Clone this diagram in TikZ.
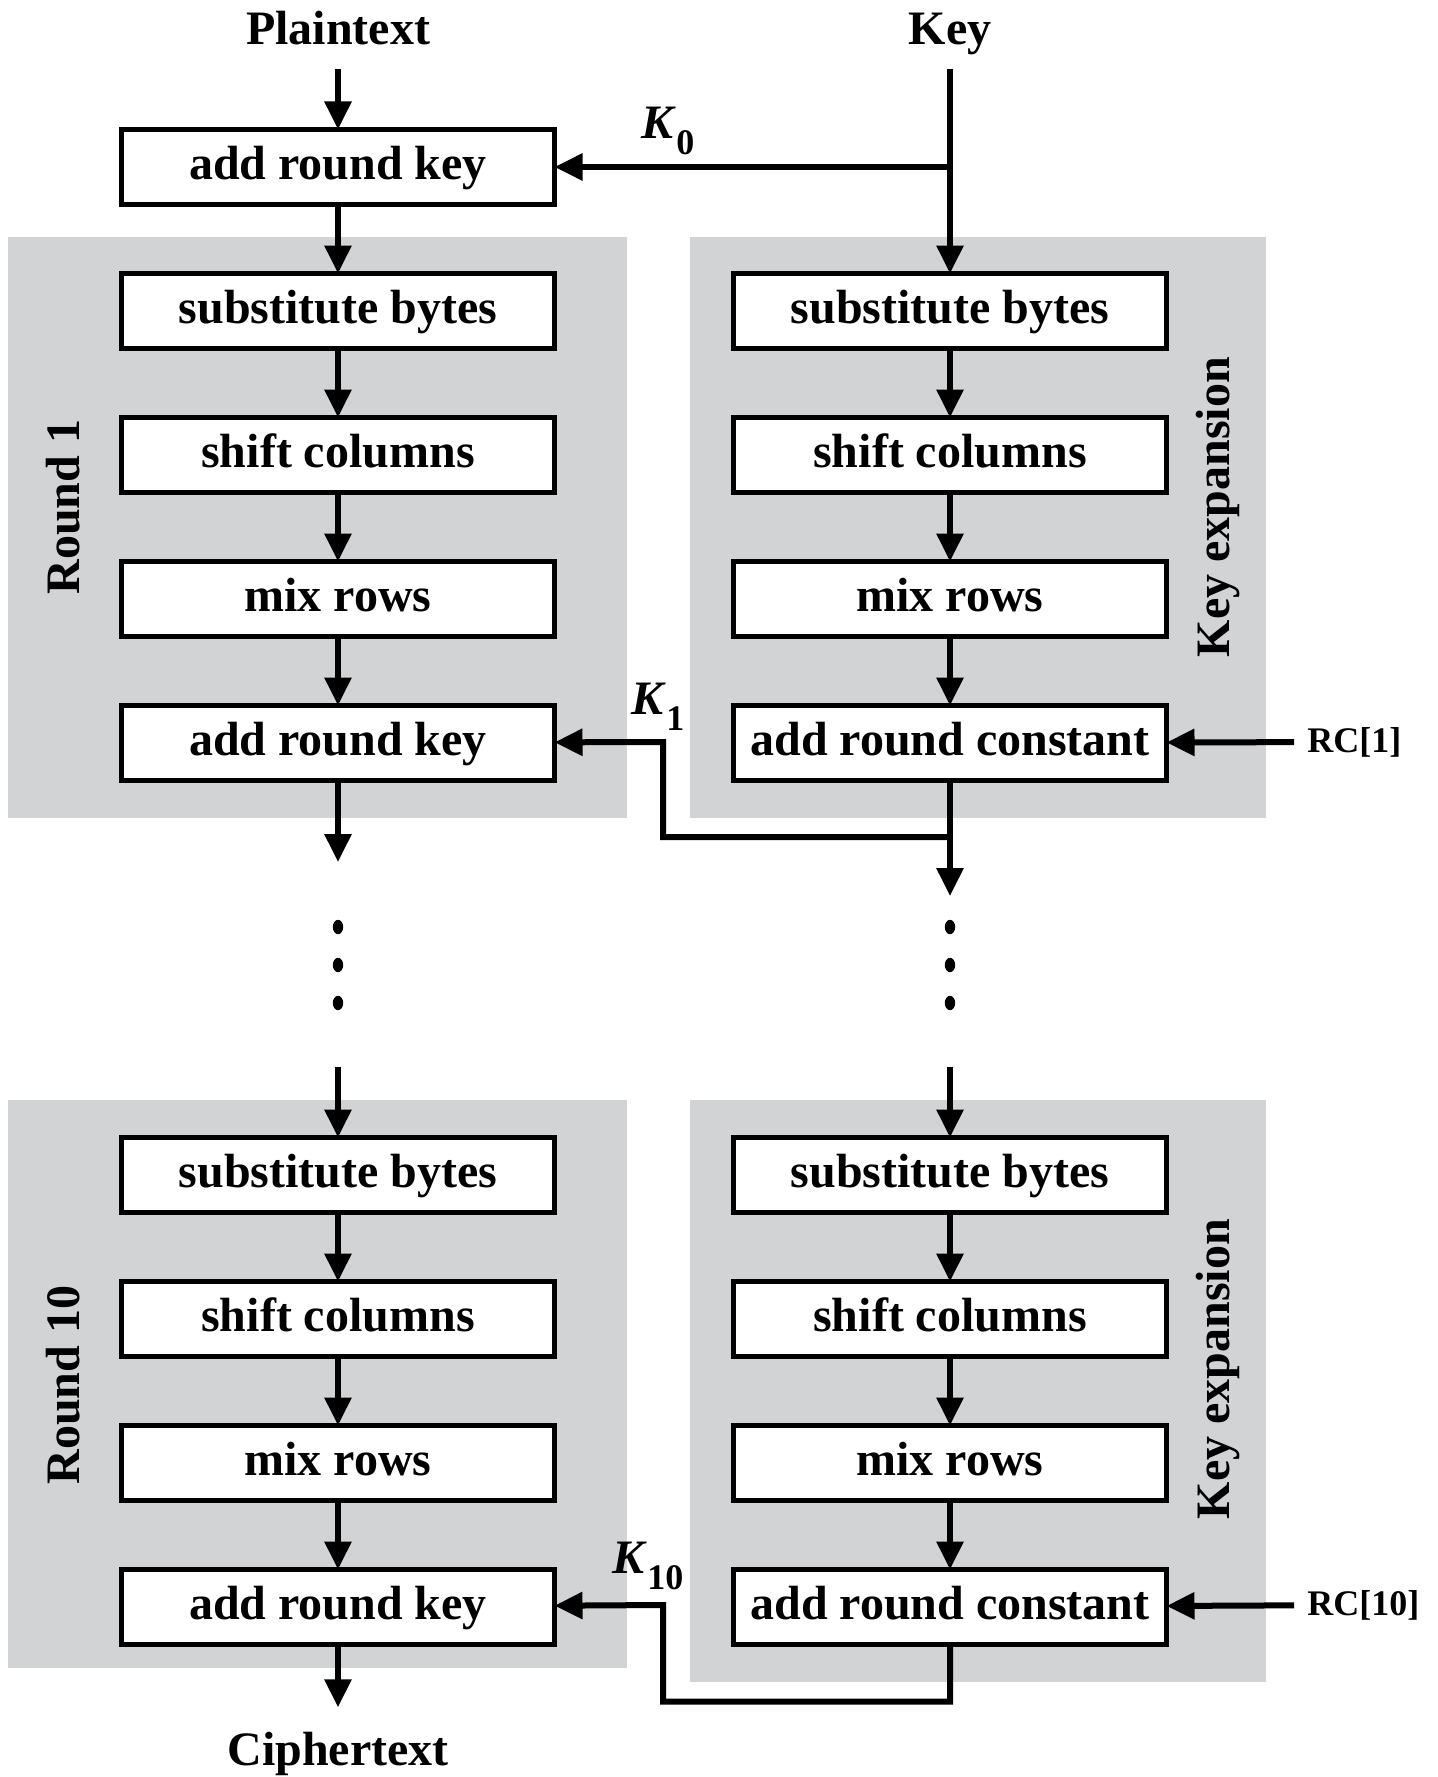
\documentclass[tikz,border=0pt]{standalone}
\usepackage{fontspec}
\setmainfont{Liberation Serif}
\usetikzlibrary{positioning,arrows.meta}
\definecolor{panelgray}{RGB}{209,211,212}
\newcommand{\roundkey}[1]{\textit{K}\raisebox{-8pt}{\fontsize{18}{18}\selectfont #1}}

\begin{document}
\begin{tikzpicture}[x=0.5pt,y=-0.5pt,
    font=\bfseries\fontsize{24}{28}\selectfont,
    node distance=34.5pt and 89.5pt,
    stage/.style={draw,line width=2.6pt,fill=white,minimum width=216.5pt,minimum height=37.5pt,
                  inner sep=0pt,outer sep=0pt,text height=16pt,text depth=4pt},
    io/.style={inner xsep=0pt,inner ysep=12pt,text depth=0pt},
    side/.style={rotate=90},
    rc/.style={font=\bfseries\fontsize{18}{20}\selectfont,anchor=west,inner sep=6.5pt},
    flow/.style={line width=3pt,-{Triangle[length=14pt,width=13pt]}},
    link/.style={line width=3pt}]
    \useasboundingbox (0,0) rectangle (1438,1777);

    % shaded panels
    \fill[panelgray] (8,237) rectangle (627,818);
    \fill[panelgray] (690,237) rectangle (1266,818);
    \fill[panelgray] (8,1100) rectangle (627,1668);
    \fill[panelgray] (690,1100) rectangle (1266,1682);

    % inputs
    \node[io,anchor=base] (pt) at (338,45) {Plaintext};
    \node[io,anchor=base] (key) at (950,45) {Key};

    % round 1
    \node[stage] (ark0) at (338,167) {add round key};
    \node[stage,below=of ark0] (sb1) {substitute bytes};
    \node[stage,below=of sb1] (sc1) {shift columns};
    \node[stage,below=of sc1] (mr1) {mix rows};
    \node[stage,below=of mr1] (ark1) {add round key};

    \node[stage,right=of sb1] (sbk1) {substitute bytes};
    \node[stage,below=of sbk1] (sck1) {shift columns};
    \node[stage,below=of sck1] (mrk1) {mix rows};
    \node[stage,below=of mrk1] (arc1) {add round constant};

    % round 10
    \node[stage] (sb10) at (338,1175) {substitute bytes};
    \node[stage,below=of sb10] (sc10) {shift columns};
    \node[stage,below=of sc10] (mr10) {mix rows};
    \node[stage,below=of mr10] (ark10) {add round key};

    \node[stage,right=of sb10] (sbk10) {substitute bytes};
    \node[stage,below=of sbk10] (sck10) {shift columns};
    \node[stage,below=of sck10] (mrk10) {mix rows};
    \node[stage,below=of mrk10] (arc10) {add round constant};

    \node[io,anchor=base] (ct) at (338,1765) {Ciphertext};

    % side labels
    \node[side] at (63,507) {Round 1};
    \node[side] at (1218,507) {Key expansion};
    \node[side] at (63,1385) {Round 10};
    \node[side] at (1218,1369) {Key expansion};

    % round keys and constants
    \node (k0) at (668,131) {\roundkey{0}};
    \node (k1) at (658,707) {\roundkey{1}};
    \node (k10) at (648,1566) {\roundkey{10}};
    \node[rc] (rc1) at (1294,742) {RC[1]};
    \node[rc] (rc10) at (1294,1605) {RC[10]};

    % gaps with dots
    \coordinate (l1) at (338,862);
    \coordinate (l2) at (338,1067);
    \coordinate (split1) at (950,837);
    \coordinate (r1) at (950,896);
    \coordinate (r2) at (950,1067);
    \foreach \x in {338,950}
        \foreach \y in {927,965,1003}
            \fill (\x,\y) ellipse (2.6pt and 3.6pt);

    \foreach \u / \v in {ark0/sb1,sb1/sc1,sc1/mr1,mr1/ark1,sbk1/sck1,sck1/mrk1,mrk1/arc1,
                         sb10/sc10,sc10/mr10,mr10/ark10,sbk10/sck10,sck10/mrk10,mrk10/arc10,
                         pt/ark0,key/sbk1,ark1/l1,l2/sb10,r2/sbk10,ark10/ct,rc1/arc1,rc10/arc10}
        \draw[flow] (\u) -- (\v);

    \draw[flow] (key |- ark0) -- (ark0);
    \draw[flow] (arc1) -- (r1);
    \draw[flow] (split1) -| (663,742) -- (ark1);
    \draw[flow] (arc10.south) -- ++(0,57) -| (663,1605) -- (ark10);
\end{tikzpicture}
\end{document}
